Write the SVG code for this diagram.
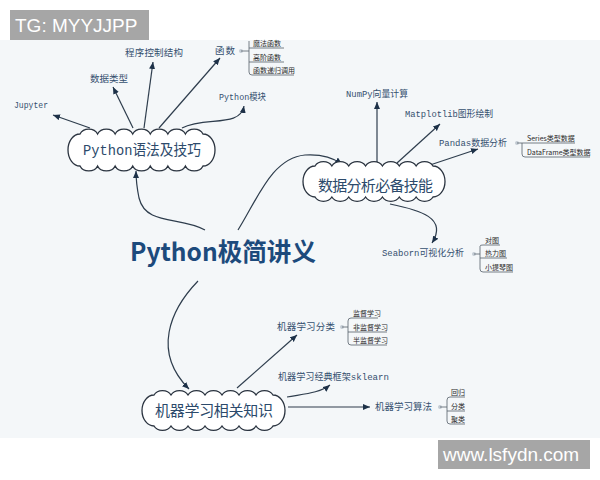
<svg xmlns="http://www.w3.org/2000/svg" width="600" height="480" viewBox="0 0 600 480">
<defs>
<marker id="ah" markerUnits="userSpaceOnUse" markerWidth="8" markerHeight="7" refX="7" refY="3" orient="auto"><path d="M0,0 L7,3 L0,6 Z" fill="#1d3148"/></marker>
<style>
.cloud{fill:#ffffff;stroke:#2b3440;stroke-width:1.3}
.cl{font-family:"Liberation Mono","Noto Sans CJK SC",monospace;font-size:15px;fill:#2c4a6b}
.lb{font-family:"Liberation Mono","Noto Sans CJK SC",monospace;font-size:9.5px;fill:#34506f}
.sub{font-family:"Noto Sans CJK SC",sans-serif;font-size:7px;fill:#2a2a2a}
.con{fill:none;stroke:#2e3d4d;stroke-width:1.2}
.arr{fill:none;stroke:#2e3d4d;stroke-width:1.2;marker-end:url(#ah)}
.br{fill:none;stroke:#555f6a;stroke-width:0.8}
.dot{fill:#c3ccd4}
.wm{font-family:"Liberation Sans",Arial,sans-serif;font-size:19px;fill:#ffffff}
</style>
</defs>
<rect x="0" y="0" width="600" height="480" fill="#ffffff"/>
<rect x="0" y="40" width="600" height="398" fill="#f4f7f9"/>

<g id="connectors">
<path class="arr" d="M205,230 C180,216 146,226 139,198 C137,188 136,180 136,171"/>
<path class="arr" d="M238,230 C258,198 272,158 305,155 C320,154 332,157 342,164"/>
<path class="arr" d="M198,281 C170,310 152,352 189,389"/>
<path class="arr" d="M90,128 L53,115"/>
<path class="arr" d="M133,128 L113,87"/>
<path class="arr" d="M144,128 L153,62"/>
<path class="arr" d="M159,128 L220,58"/>
<path class="arr" d="M182,128 C205,116 240,128 244,106"/>
<path class="arr" d="M377,163 L377,102"/>
<path class="arr" d="M397,163 L440,124"/>
<path class="arr" d="M430,165 L478,149"/>
<path class="arr" d="M390,204 C420,210 448,218 432,243"/>
<path class="arr" d="M237,388 L297,335"/>
<path class="arr" d="M287,397 C303,394 320,393 330,385"/>
<path class="arr" d="M288,407 L370,407"/>
</g>

<g id="title"><text x="130" y="261" font-family="Noto Sans CJK SC,sans-serif" font-weight="bold" font-size="25" fill="#1c4a7c" textLength="186" lengthAdjust="spacingAndGlyphs">Python极简讲义</text></g>

<g id="node-syntax">
<path class="cloud" d="M80,134 a9.5,8 0 0 1 17.571,0 a9.5,8 0 0 1 17.571,0 a9.5,8 0 0 1 17.571,0 a9.5,8 0 0 1 17.571,0 a9.5,8 0 0 1 17.571,0 a9.5,8 0 0 1 17.571,0 a9.5,8 0 0 1 17.571,0 A12,16 0 0 1 203,166 a9.5,8 0 0 1 -17.571,0 a9.5,8 0 0 1 -17.571,0 a9.5,8 0 0 1 -17.571,0 a9.5,8 0 0 1 -17.571,0 a9.5,8 0 0 1 -17.571,0 a9.5,8 0 0 1 -17.571,0 a9.5,8 0 0 1 -17.571,0 A12,16 0 0 1 80,134 Z"/>
<text class="cl" x="83" y="155" textLength="118" lengthAdjust="spacingAndGlyphs">Python语法及技巧</text>
</g>
<g id="node-data">
<path class="cloud" d="M315,166 a9.5,8 0 0 1 16.857,0 a9.5,8 0 0 1 16.857,0 a9.5,8 0 0 1 16.857,0 a9.5,8 0 0 1 16.857,0 a9.5,8 0 0 1 16.857,0 a9.5,8 0 0 1 16.857,0 a9.5,8 0 0 1 16.857,0 A12,15.5 0 0 1 433,197 a9.5,8 0 0 1 -16.857,0 a9.5,8 0 0 1 -16.857,0 a9.5,8 0 0 1 -16.857,0 a9.5,8 0 0 1 -16.857,0 a9.5,8 0 0 1 -16.857,0 a9.5,8 0 0 1 -16.857,0 a9.5,8 0 0 1 -16.857,0 A12,15.5 0 0 1 315,166 Z"/>
<text class="cl" x="318" y="190.5" textLength="115" lengthAdjust="spacing">数据分析必备技能</text>
</g>
<g id="node-ml">
<path class="cloud" d="M154,395 a9.5,8 0 0 1 17,0 a9.5,8 0 0 1 17,0 a9.5,8 0 0 1 17,0 a9.5,8 0 0 1 17,0 a9.5,8 0 0 1 17,0 a9.5,8 0 0 1 17,0 a9.5,8 0 0 1 17,0 A12,15.5 0 0 1 273,426 a9.5,8 0 0 1 -17,0 a9.5,8 0 0 1 -17,0 a9.5,8 0 0 1 -17,0 a9.5,8 0 0 1 -17,0 a9.5,8 0 0 1 -17,0 a9.5,8 0 0 1 -17,0 a9.5,8 0 0 1 -17,0 A12,15.5 0 0 1 154,395 Z"/>
<text class="cl" x="155" y="415.5" textLength="118" lengthAdjust="spacing">机器学习相关知识</text>
</g>

<g id="node-jupyter"><text class="lb" x="14" y="108" textLength="34" lengthAdjust="spacingAndGlyphs">Jupyter</text></g>
<g id="node-types"><text class="lb" x="90" y="82" textLength="38" lengthAdjust="spacing">数据类型</text></g>
<g id="node-control"><text class="lb" x="125" y="56" textLength="58" lengthAdjust="spacing">程序控制结构</text></g>
<g id="node-func"><text class="lb" x="215" y="54" textLength="20" lengthAdjust="spacing">函数</text></g>
<g id="node-module"><text class="lb" x="219" y="100" textLength="47" lengthAdjust="spacingAndGlyphs">Python模块</text></g>
<g id="node-numpy"><text class="lb" x="346" y="97" textLength="62" lengthAdjust="spacingAndGlyphs">NumPy向量计算</text></g>
<g id="node-matplotlib"><text class="lb" x="405" y="117" textLength="88" lengthAdjust="spacingAndGlyphs">Matplotlib图形绘制</text></g>
<g id="node-pandas"><text class="lb" x="439" y="146" textLength="68" lengthAdjust="spacingAndGlyphs">Pandas数据分析</text></g>
<g id="node-seaborn"><text class="lb" x="382" y="256" textLength="82" lengthAdjust="spacingAndGlyphs">Seaborn可视化分析</text></g>
<g id="node-mlclass"><text class="lb" x="277" y="330" textLength="58" lengthAdjust="spacing">机器学习分类</text></g>
<g id="node-sklearn"><text class="lb" x="278" y="380" textLength="111" lengthAdjust="spacingAndGlyphs">机器学习经典框架sklearn</text></g>
<g id="node-mlalgo"><text class="lb" x="375" y="410" textLength="57" lengthAdjust="spacing">机器学习算法</text></g>

<g id="sub-func">
<circle class="dot" cx="241" cy="51" r="2"/>
<path class="br" d="M241,51 H249 M249,41 V72 Q249,75 252,75 H294 M249,48 H284 M249,62 H284"/>
<text class="sub" x="253" y="46">魔法函数</text>
<text class="sub" x="253" y="60">高阶函数</text>
<text class="sub" x="253" y="73">函数递归调用</text>
</g>
<g id="sub-pandas">
<circle class="dot" cx="517" cy="143" r="2"/>
<path class="br" d="M517,143 H575 M522,143 V154 Q522,157 525,157 H590"/>
<text class="sub" x="527" y="141">Series类型数据</text>
<text class="sub" x="527" y="155">DataFrame类型数据</text>
</g>
<g id="sub-seaborn">
<circle class="dot" cx="474" cy="254" r="2"/>
<path class="br" d="M474,254 H480 M480,246 V269 Q480,272 483,272 H513 M480,246 Q480,245 483,245 H500 M480,258 H507"/>
<text class="sub" x="485" y="243">对图</text>
<text class="sub" x="485" y="256">热力图</text>
<text class="sub" x="485" y="270">小提琴图</text>
</g>
<g id="sub-mlclass">
<circle class="dot" cx="342" cy="327" r="2"/>
<path class="br" d="M342,327 H348 M348,321 V342 Q348,345 351,345 H387 M348,321 Q348,318 351,318 H378 M348,332 H387"/>
<text class="sub" x="353" y="316">监督学习</text>
<text class="sub" x="353" y="330">非监督学习</text>
<text class="sub" x="353" y="343">半监督学习</text>
</g>
<g id="sub-mlalgo">
<circle class="dot" cx="440" cy="407" r="2"/>
<path class="br" d="M440,407 H447 M447,400 V421 Q447,424 450,424 H465 M447,400 Q447,397 450,397 H465 M447,411 H465"/>
<text class="sub" x="451" y="395">回归</text>
<text class="sub" x="451" y="409">分类</text>
<text class="sub" x="451" y="422">聚类</text>
</g>

<g id="watermark-top"><rect x="10" y="10" width="139" height="30" fill="#a6a6a6"/><text class="wm" x="15" y="32">TG: MYYJJPP</text></g>
<g id="watermark-bottom"><rect x="438" y="440" width="152" height="29" fill="#a6a6a6"/><text class="wm" x="443" y="461">www.lsfydn.com</text></g>
</svg>
